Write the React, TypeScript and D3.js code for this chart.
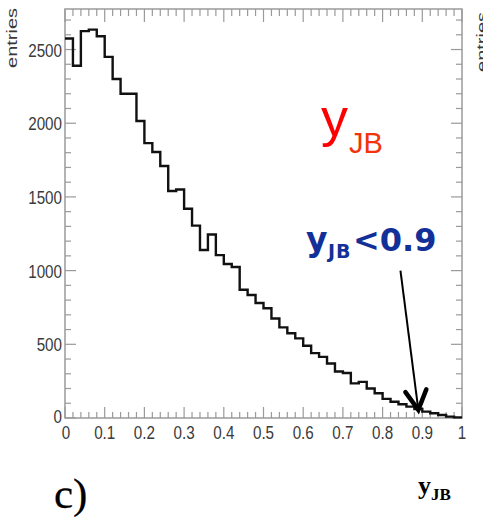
import React from "react";
import * as d3 from "d3";

const binEdges = d3.range(0, 51).map((i) => i / 50);
const binValues = [
  2575, 2390, 2625, 2635, 2590, 2450, 2300, 2200, 2200, 2015,
  1865, 1805, 1710, 1540, 1550, 1420, 1305, 1140, 1245, 1105,
  1045, 1025, 870, 835, 780, 745, 675, 615, 575, 540,
  490, 440, 415, 370, 315, 305, 235, 245, 200, 168,
  130, 110, 93, 77, 61, 43, 32, 20, 9, 4,
];
const xTickValues = [0, 0.1, 0.2, 0.3, 0.4, 0.5, 0.6, 0.7, 0.8, 0.9, 1];
const xTickLabels = ["0", "0.1", "0.2", "0.3", "0.4", "0.5", "0.6", "0.7", "0.8", "0.9", "1"];
const yTickValues = [0, 500, 1000, 1500, 2000, 2500];
const yTickLabels = ["0", "500", "1000", "1500", "2000", "2500"];
const arrowStart = { x: 0.845, y: 1000 };
const arrowTip = { x: 0.89, y: 55 };

const W = 483;
const H = 517;
const L = 65;
const R = 462;
const T = 9;
const B = 418;

export default function App() {
  const x = d3.scaleLinear().domain([0, 1]).range([L, R]);
  const y = d3.scaleLinear().domain([0, 2775]).range([B, T]);

  const pts: [number, number][] = [];
  binValues.forEach((v, i) => {
    pts.push([binEdges[i], v]);
    pts.push([binEdges[i + 1], v]);
  });
  const line = d3
    .line<[number, number]>()
    .x((d) => x(d[0]))
    .y((d) => y(d[1]));

  const xMinor = d3.range(0, 51).map((i) => i / 50);
  const yMinor = d3.range(0, 28).map((i) => i * 100);
  const axisColor = "#9a9a9a";
  const labelColor = "#3a3a3a";
  const tickFont = "'Liberation Sans', Arial, sans-serif";

  const ax0 = x(arrowStart.x), ay0 = y(arrowStart.y);
  const ax1 = x(arrowTip.x), ay1 = y(arrowTip.y);
  const ang = Math.atan2(ay1 - ay0, ax1 - ax0);
  const headLen = 22;
  const spread = 0.5;
  const h1 = [ax1 - headLen * Math.cos(ang - spread), ay1 - headLen * Math.sin(ang - spread)];
  const h2 = [ax1 - headLen * Math.cos(ang + spread), ay1 - headLen * Math.sin(ang + spread)];

  return (
    <svg width={W} height={H} style={{ position: "absolute", left: 0, top: 0, background: "#fff" }}>
      {/* frame */}
      <rect x={L} y={T} width={R - L} height={B - T} fill="none" stroke={axisColor} strokeWidth={1.5} />
      {/* x ticks bottom and top */}
      {xMinor.map((v, i) => {
        const major = i % 5 === 0;
        const len = major ? 11 : 6;
        return (
          <g key={"xt" + i} stroke={axisColor} strokeWidth={1.2}>
            <line x1={x(v)} x2={x(v)} y1={B} y2={B - len} />
            <line x1={x(v)} x2={x(v)} y1={T} y2={T + (major ? 13 : 7)} />
          </g>
        );
      })}
      {/* y ticks left and right */}
      {yMinor.map((v, i) => {
        const major = i % 5 === 0;
        const len = major ? 11 : 6;
        return (
          <g key={"yt" + i} stroke={axisColor} strokeWidth={1.2}>
            <line x1={L} x2={L + len} y1={y(v)} y2={y(v)} />
            <line x1={R} x2={R - len} y1={y(v)} y2={y(v)} />
          </g>
        );
      })}
      {/* x labels */}
      {xTickValues.map((v, i) => (
        <text
          key={"xl" + i}
          transform={`translate(${x(v) + (i === 0 ? 1 : 0)},439) scale(0.8,1)`}
          textAnchor="middle"
          fontFamily={tickFont}
          fontSize={19}
          fill={labelColor}
        >
          {xTickLabels[i]}
        </text>
      ))}
      {/* y labels */}
      {yTickValues.map((v, i) => (
        <text
          key={"yl" + i}
          transform={`translate(62,${y(v) + 7 - (i === 0 ? 2 : 0)}) scale(0.8,1)`}
          textAnchor="end"
          fontFamily={tickFont}
          fontSize={19}
          fill={labelColor}
        >
          {yTickLabels[i]}
        </text>
      ))}
      {/* y axis titles */}
      <text
        transform="translate(17,8) rotate(-90) scale(1,0.75)"
        textAnchor="end"
        fontFamily={tickFont}
        fontSize={20}
        fill={labelColor}
      >
        entries
      </text>
      <text
        transform="translate(487,12) rotate(-90) scale(1,0.75)"
        textAnchor="end"
        fontFamily={tickFont}
        fontSize={20}
        fill={labelColor}
      >
        entries
      </text>
      {/* histogram */}
      <path d={line(pts) || ""} fill="none" stroke="#111" strokeWidth={2.4} strokeLinejoin="miter" />
      {/* red label */}
      <text x={321} y={136} fontFamily="'Liberation Sans', Arial, sans-serif" fontSize={54} fill="#ff0000">
        y
      </text>
      <text x={349} y={153} fontFamily="'Liberation Sans', Arial, sans-serif" fontSize={29} fill="#f2330c">
        JB
      </text>
      {/* blue label */}
      <text x={306} y={251} fontFamily="'DejaVu Sans', Verdana, sans-serif" fontWeight="bold" fontSize={33} fill="#132f98">
        y
      </text>
      <text x={328} y={258} fontFamily="'DejaVu Sans', Verdana, sans-serif" fontWeight="bold" fontSize={19} letterSpacing={1} fill="#132f98">
        JB
      </text>
      <text x={353} y={251} fontFamily="'DejaVu Sans', Verdana, sans-serif" fontWeight="bold" fontSize={32} fill="#132f98">
        {"<0.9"}
      </text>
      {/* arrow */}
      <line x1={ax0} y1={ay0} x2={ax1} y2={ay1} stroke="#000" strokeWidth={2} />
      <polyline
        points={`${h1[0]},${h1[1]} ${ax1},${ay1} ${h2[0]},${h2[1]}`}
        fill="none"
        stroke="#000"
        strokeWidth={4.5}
        strokeLinejoin="miter"
        strokeLinecap="round"
      />
      {/* bottom labels */}
      <text x={54} y={508} fontFamily="'Liberation Serif', 'Times New Roman', serif" fontSize={43} fill="#000" stroke="#000" strokeWidth={0.3}>
        c)
      </text>
      <text x={418} y={494} fontFamily="'Liberation Serif', 'Times New Roman', serif" fontWeight="bold" fontSize={26} fill="#000">
        y
      </text>
      <text x={431} y={500} fontFamily="'Liberation Serif', 'Times New Roman', serif" fontWeight="bold" fontSize={17} fill="#000">
        JB
      </text>
    </svg>
  );
}
